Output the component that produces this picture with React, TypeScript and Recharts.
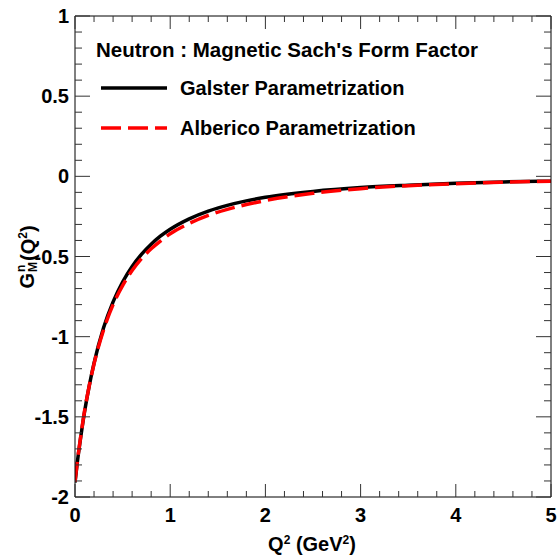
import { LineChart, Line, XAxis, YAxis, Legend } from 'recharts'

// Q^2 sample points (GeV^2) and the two parametrizations
const q2Values = [0, 0.025, 0.05, 0.1, 0.15, 0.2, 0.3, 0.4, 0.5, 0.6, 0.7, 0.8, 0.9, 1.0, 1.2, 1.4, 1.6, 1.8, 2.0, 2.5, 3.0, 3.5, 4.0, 4.5, 5.0]
const galsterValues = [-1.91, -1.78, -1.67, -1.47, -1.305, -1.165, -0.945, -0.783, -0.659, -0.562, -0.485, -0.423, -0.372, -0.33, -0.265, -0.217, -0.181, -0.153, -0.131, -0.094, -0.07, -0.055, -0.043, -0.035, -0.03]
const albericoValues = [-1.905, -1.775, -1.665, -1.465, -1.305, -1.17, -0.958, -0.8, -0.682, -0.588, -0.512, -0.452, -0.402, -0.358, -0.294, -0.244, -0.206, -0.176, -0.151, -0.106, -0.077, -0.058, -0.046, -0.037, -0.03]

const xTicks = [0, 0.2, 0.4, 0.6, 0.8, 1, 1.2, 1.4, 1.6, 1.8, 2, 2.2, 2.4, 2.6, 2.8, 3, 3.2, 3.4, 3.6, 3.8, 4, 4.2, 4.4, 4.6, 4.8, 5]
const xLabels = [0, 1, 2, 3, 4, 5]
const yTicks = [-2, -1.9, -1.8, -1.7, -1.6, -1.5, -1.4, -1.3, -1.2, -1.1, -1, -0.9, -0.8, -0.7, -0.6, -0.5, -0.4, -0.3, -0.2, -0.1, 0, 0.1, 0.2, 0.3, 0.4, 0.5, 0.6, 0.7, 0.8, 0.9, 1]
const yLabels = [-2, -1.5, -1, -0.5, 0, 0.5, 1]

const legendTitle = "Neutron : Magnetic Sach's Form Factor"
const galsterName = 'Galster Parametrization'
const albericoName = 'Alberico Parametrization'

const data = q2Values.map((q, i) => ({ q, galster: galsterValues[i], alberico: albericoValues[i] }))

const FONT = '"Liberation Sans", Arial, Helvetica, sans-serif'
const TICK_COLOR = '#333'

function BottomTick({ x, y, payload }: any) {
  const major = xLabels.includes(payload.value)
  return (
    <g>
      <line x1={x} x2={x} y1={y} y2={y - (major ? 13 : 6)} stroke={TICK_COLOR} />
      {major && (
        <text x={x} y={y + 18} textAnchor="middle" dominantBaseline="central"
          fontFamily={FONT} fontWeight="bold" fontSize={20} fill="#000">
          {payload.value}
        </text>
      )}
    </g>
  )
}

function TopTick({ x, y, payload }: any) {
  const major = xLabels.includes(payload.value)
  return <line x1={x} x2={x} y1={y} y2={y + (major ? 13 : 6)} stroke={TICK_COLOR} />
}

function LeftTick({ x, y, payload }: any) {
  const major = yLabels.includes(payload.value)
  return (
    <g>
      <line x1={x} x2={x + (major ? 15 : 7)} y1={y} y2={y} stroke={TICK_COLOR} />
      {major && (
        <text x={x - 6} y={y} textAnchor="end" dominantBaseline="central"
          fontFamily={FONT} fontWeight="bold" fontSize={20} fill="#000">
          {payload.value}
        </text>
      )}
    </g>
  )
}

function RightTick({ x, y, payload }: any) {
  const major = yLabels.includes(payload.value)
  return <line x1={x} x2={x - (major ? 15 : 7)} y1={y} y2={y} stroke={TICK_COLOR} />
}

function LegendBox() {
  const rows = [
    { name: galsterName, color: '#000', dash: undefined },
    { name: albericoName, color: '#ff0000', dash: '20 7' },
  ]
  return (
    <div style={{ fontFamily: FONT, fontWeight: 'bold', fontSize: 20, color: '#000', whiteSpace: 'nowrap' }}>
      <div style={{ height: 24, lineHeight: '24px', fontSize: 20.5 }}>{legendTitle}</div>
      <div style={{ height: 6 }} />
      {rows.map((r) => (
        <div key={r.name} style={{ height: 40, display: 'flex', alignItems: 'center' }}>
          <svg width={66} height={8} style={{ marginLeft: 5, marginRight: 13 }}>
            <line x1={0} x2={66} y1={4} y2={4} stroke={r.color} strokeWidth={3.5} strokeDasharray={r.dash} />
          </svg>
          <span>{r.name}</span>
        </div>
      ))}
    </div>
  )
}

export default function App() {
  return (
    <div style={{ position: 'absolute', left: 0, top: 0, width: 560, height: 560, background: '#fff', fontFamily: FONT }}>
      <LineChart width={560} height={560} data={data} margin={{ top: 15, right: 8, bottom: 62, left: 74 }}>
        <XAxis xAxisId="bottom" dataKey="q" type="number" domain={[0, 5]} ticks={xTicks} interval={0}
          height={1} tickSize={0} tickMargin={0} tickLine={false} tick={<BottomTick />}
          axisLine={{ stroke: '#000', strokeWidth: 1 }} allowDataOverflow />
        <XAxis xAxisId="top" orientation="top" dataKey="q" type="number" domain={[0, 5]} ticks={xTicks} interval={0}
          height={1} tickSize={0} tickMargin={0} tickLine={false} tick={<TopTick />}
          axisLine={{ stroke: '#000', strokeWidth: 1 }} allowDataOverflow />
        <YAxis yAxisId="left" type="number" domain={[-2, 1]} ticks={yTicks} interval={0}
          width={1} tickSize={0} tickMargin={0} tickLine={false} tick={<LeftTick />}
          axisLine={{ stroke: '#000', strokeWidth: 1 }} allowDataOverflow />
        <YAxis yAxisId="right" orientation="right" type="number" domain={[-2, 1]} ticks={yTicks} interval={0}
          width={1} tickSize={0} tickMargin={0} tickLine={false} tick={<RightTick />}
          axisLine={{ stroke: '#000', strokeWidth: 1 }} allowDataOverflow />
        <Line xAxisId="bottom" yAxisId="left" type="monotone" dataKey="galster" name={galsterName}
          stroke="#000" strokeWidth={3.5} dot={false} isAnimationActive={false} />
        <Line xAxisId="bottom" yAxisId="left" type="monotone" dataKey="alberico" name={albericoName}
          stroke="#ff0000" strokeWidth={3.5} strokeDasharray="20 7" dot={false} isAnimationActive={false} />
        <Legend layout="vertical" align="center" verticalAlign="middle" content={<LegendBox />}
          wrapperStyle={{ left: 96, top: 38 }} />
      </LineChart>

      <div style={{ position: 'absolute', left: 312, top: 544, transform: 'translate(-50%, -50%)',
        fontWeight: 'bold', fontSize: 20, whiteSpace: 'nowrap', lineHeight: 1 }}>
        Q<sup style={{ fontSize: 12 }}>2</sup> (GeV<sup style={{ fontSize: 12 }}>2</sup>)
      </div>

      <div style={{ position: 'absolute', left: 27, top: 257, transform: 'translate(-50%, -50%) rotate(-90deg)',
        fontWeight: 'bold', fontSize: 20, whiteSpace: 'nowrap', lineHeight: 1, display: 'flex', alignItems: 'center' }}>
        <span>G</span>
        <span style={{ display: 'inline-flex', flexDirection: 'column', fontSize: 12, lineHeight: '12px', margin: '0 1px' }}>
          <span>n</span>
          <span>M</span>
        </span>
        <span>(Q<sup style={{ fontSize: 12 }}>2</sup>)</span>
      </div>
    </div>
  )
}
